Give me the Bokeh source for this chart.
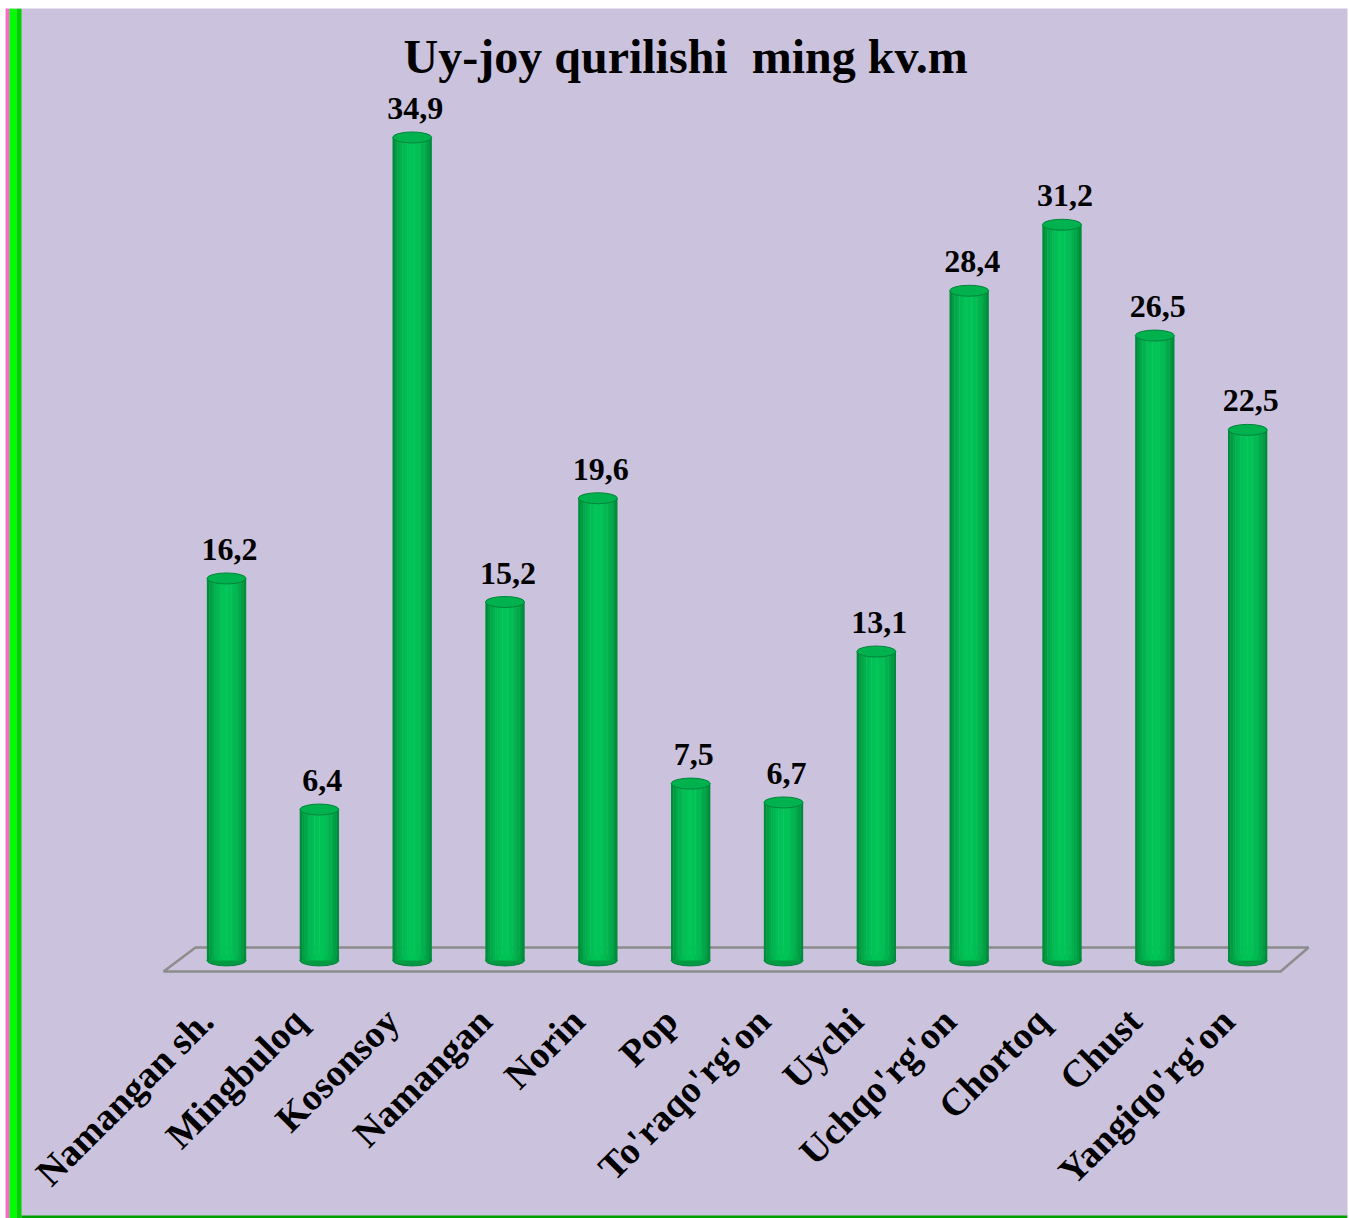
import numpy as np
from bokeh.plotting import figure
from bokeh.models import Range1d, BoxAnnotation
from bokeh.core.properties import value
from bokeh.embed import file_html
from bokeh.resources import INLINE

# ---------------- data ----------------
categories = ["Namangan sh.", "Mingbuloq", "Kosonsoy", "Namangan", "Norin", "Pop",
              "To'raqo'rg'on", "Uychi", "Uchqo'rg'on", "Chortoq", "Chust", "Yangiqo'rg'on"]
values = [16.2, 6.4, 34.9, 15.2, 19.6, 7.5, 6.7, 13.1, 28.4, 31.2, 26.5, 22.5]
value_labels = [f"{v:.1f}".replace(".", ",") for v in values]
title_text = "Uy-joy qurilishi\u00a0 ming kv.m"

# ---------------- layout ----------------
W, H = 1349, 1218
ML, MT, MR, MB = 5, 8, 2, 0
FW, FH = W - ML - MR, H - MT - MB
PX_X = 92.83   # pixels per category
PX_Y = 23.58   # pixels per unit
x_start = -2.381
x_end = x_start + FW / PX_X
y_end = 40.37
y_start = y_end - FH / PX_Y

BG = "#CBC3DD"
FONT = "Liberation Serif"

idx = np.arange(len(categories))
vals = np.array(values)
n = len(categories)

p = figure(width=W, height=H, output_backend="svg", toolbar_location=None,
           x_range=Range1d(x_start, x_end), y_range=Range1d(y_start, y_end),
           min_border=0, min_border_left=ML, min_border_right=MR,
           min_border_top=MT, min_border_bottom=MB)
p.axis.visible = False
p.grid.visible = False
p.outline_line_color = None
p.background_fill_color = BG
p.border_fill_color = "#FFFFFF"

# side / bottom decorative borders
px = 1.0 / PX_X
py = 1.0 / PX_Y
p.add_layout(BoxAnnotation(left=x_start, right=x_start + 4 * px, fill_color="#FF66CC",
                           fill_alpha=1, line_alpha=0))
p.add_layout(BoxAnnotation(left=x_start + 4 * px, right=x_start + 11 * px, fill_color="#00FF00",
                           fill_alpha=1, line_alpha=0))
p.add_layout(BoxAnnotation(left=x_start + 11 * px, right=x_start + 16 * px, fill_color="#00D000",
                           fill_alpha=1, line_alpha=0))
p.add_layout(BoxAnnotation(left=x_start + 16 * px, bottom=y_start, top=y_start + 3 * py,
                           fill_color="#00A000", fill_alpha=1, line_alpha=0))

# floor (3-D platform)
floor_x = [0 - 0.334, (n - 1) + 0.656, (n - 1) + 0.355, 0 - 0.678]
floor_y = [0.55, 0.55, -0.47, -0.47]
p.patch(floor_x, floor_y, fill_alpha=0, line_color="#8C8C8C", line_width=2.5)

# cylinders
BW = 0.42
dark = np.array([0, 128, 52])
light = np.array([0, 196, 86])
p.ellipse(x=idx, y=np.zeros(n), width=BW, height=11, height_units="screen",
          fill_color="#009A42", line_color="#00843A", line_width=1)
NS = 16
sw = BW / NS
for k in range(NS):
    t = (k + 0.5) / NS
    s = np.sin(np.pi * t) ** 0.7
    c = dark + (light - dark) * s
    col = "#%02x%02x%02x" % tuple(int(round(v)) for v in c)
    off = -BW / 2 + (k + 0.5) * sw
    p.vbar(x=idx + off, top=vals, bottom=0, width=sw * 1.15,
           fill_color=col, line_color=None)
p.ellipse(x=idx, y=vals, width=BW, height=11, height_units="screen",
          fill_color="#00B24E", line_color="#00843A", line_width=1)

# value labels
p.text(x=idx, y=vals, text=value_labels, text_align="center", text_baseline="alphabetic",
       y_offset=-29, x_offset=3, text_font=value(FONT), text_font_style="bold",
       text_font_size="32px", text_color="#000000")

# category labels (rotated)
p.text(x=idx, y=np.full(n, -2.30), text=categories, angle=np.pi / 4,
       text_align="right", text_baseline="alphabetic", x_offset=-20,
       text_font=value(FONT), text_font_style="bold", text_font_size="38px",
       text_color="#000000")

# title
p.text(x=[4.946], y=[38.33], text=[title_text], text_align="center",
       text_baseline="alphabetic", text_font=value(FONT), text_font_style="bold",
       text_font_size="48px", text_color="#000000")

open("out.html", "w").write(file_html(p, INLINE))
